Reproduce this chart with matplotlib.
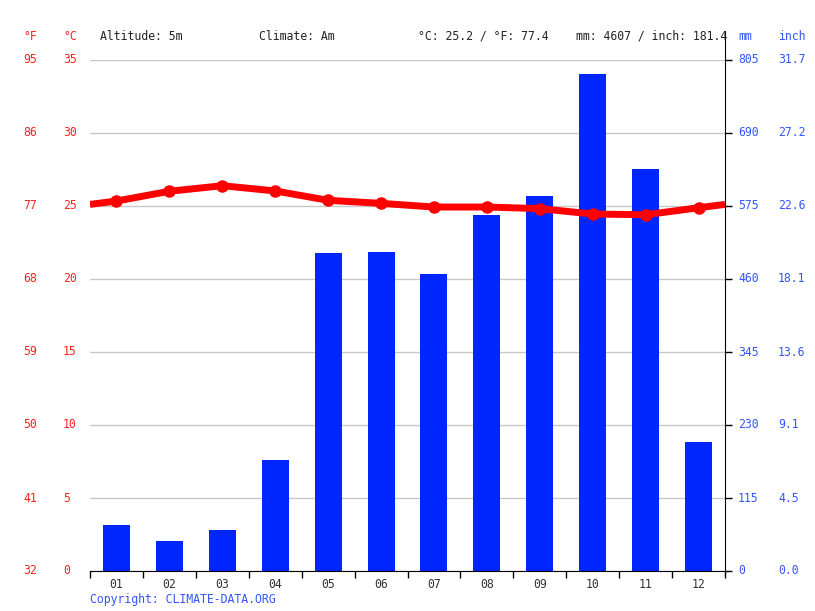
import matplotlib
matplotlib.use('Agg')
import matplotlib.pyplot as plt
import matplotlib.transforms as mtransforms

# monthly climate values
months = ['01', '02', '03', '04', '05', '06', '07', '08', '09', '10', '11', '12']
temp_c = [25.34, 26.01, 26.39, 26.03, 25.39, 25.18, 24.93, 24.93, 24.82, 24.45, 24.40, 24.88]
precip_mm = [72, 48, 65, 175, 501, 503, 468, 561, 591, 783, 634, 204]

# axis labels
c_ticks = [0, 5, 10, 15, 20, 25, 30, 35]
f_labels = ['32', '41', '50', '59', '68', '77', '86', '95']
mm_ticks = [0, 115, 230, 345, 460, 575, 690, 805]
inch_labels = ['0.0', '4.5', '9.1', '13.6', '18.1', '22.6', '27.2', '31.7']

RED = '#ff0000'
RED_TXT = '#ff2020'
BLUE = '#0026ff'
BLUE_TXT = '#3355ff'
FONT = 'DejaVu Sans Mono'
FS = 8.3

W, H = 815, 611
fig = plt.figure(figsize=(W / 100, H / 100), dpi=100)
ax = fig.add_axes([90 / W, 40 / H, 635 / W, 511 / H])

x = list(range(12))
ax.bar(x, precip_mm, width=0.51, color=BLUE, zorder=2)
ax.set_xlim(-0.5, 11.5)
ax.set_ylim(0, 805)
ax.set_axisbelow(True)
ax.yaxis.grid(True, color='#c8c8c8', lw=1)

# temperature line on twin axis
ax2 = ax.twinx()
ax2.set_ylim(0, 35)
ax2.axis('off')
edge = (temp_c[0] + temp_c[-1]) / 2
ax2.plot([-0.5] + x + [11.5], [edge] + temp_c + [edge], color=RED, lw=5,
         solid_capstyle='butt', zorder=3)
ax2.plot(x, temp_c, 'o', color=RED, ms=8, zorder=4)

for s in ['left', 'top']:
    ax.spines[s].set_visible(False)
ax.spines['right'].set_bounds(-8, 850)
ax.spines['bottom'].set_bounds(-0.5, 11.55)

ax.set_yticks(mm_ticks)
ax.tick_params(axis='y', left=False, right=True, labelleft=False, labelright=False,
               length=5, width=1)
ax.set_xticks([i - 0.5 for i in range(13)])
ax.set_xticklabels([])
ax.set_xticks(x, minor=True)
ax.set_xticklabels(months, minor=True, fontfamily=FONT, fontsize=FS, color='#333333')
ax.tick_params(axis='x', which='major', length=5, width=1)
ax.tick_params(axis='x', which='minor', length=0, pad=5)

# axis labels as text
tl = mtransforms.blended_transform_factory(fig.transFigure, ax2.transData)
for c, f in zip(c_ticks, f_labels):
    fig.text(23 / W, c, f, transform=tl, color=RED_TXT, fontfamily=FONT, fontsize=FS, va='center')
    fig.text(63 / W, c, str(c), transform=tl, color=RED_TXT, fontfamily=FONT, fontsize=FS, va='center')
tr = mtransforms.blended_transform_factory(fig.transFigure, ax.transData)
for m, i in zip(mm_ticks, inch_labels):
    fig.text(738 / W, m, str(m), transform=tr, color=BLUE_TXT, fontfamily=FONT, fontsize=FS, va='center')
    fig.text(778 / W, m, i, transform=tr, color=BLUE_TXT, fontfamily=FONT, fontsize=FS, va='center')

# header row
hy = 1 - 36 / H
header = [(23, '°F', RED_TXT), (63, '°C', RED_TXT), (100, 'Altitude: 5m', '#222222'),
          (259, 'Climate: Am', '#222222'), (418, '°C: 25.2 / °F: 77.4', '#222222'),
          (576, 'mm: 4607 / inch: 181.4', '#222222'), (738, 'mm', BLUE_TXT), (778, 'inch', BLUE_TXT)]
for hx, txt, col in header:
    fig.text(hx / W, hy, txt, color=col, fontfamily=FONT, fontsize=FS, va='center')

fig.text(90 / W, 1 - 599 / H, 'Copyright: CLIMATE-DATA.ORG', color=BLUE_TXT,
         fontfamily=FONT, fontsize=FS, va='center')

fig.savefig('out.png', dpi=100)
